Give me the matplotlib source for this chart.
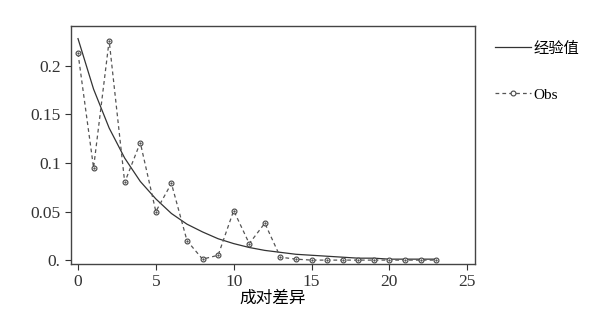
import matplotlib
matplotlib.use('Agg')
from matplotlib import pyplot as plt
from matplotlib.lines import Line2D

plt.rcParams['font.family'] = ['Liberation Serif', 'Noto Sans CJK SC']
plt.rcParams['font.size'] = 12.5

x_obs = list(range(24))
obs = [0.213, 0.095, 0.226, 0.080, 0.121, 0.050, 0.079, 0.020, 0.001, 0.005,
       0.051, 0.017, 0.038, 0.003, 0.001, 0.0, 0.0, 0.0, 0.0, 0.0,
       0.0, 0.0, 0.0, 0.0]
expected = [0.228, 0.176, 0.136, 0.105, 0.081, 0.063, 0.048, 0.037, 0.029, 0.022,
            0.017, 0.013, 0.010, 0.008, 0.006, 0.005, 0.004, 0.003, 0.002, 0.002,
            0.001, 0.001, 0.001, 0.001]
xticks = [0, 5, 10, 15, 20, 25]
yticks = [0, 0.05, 0.1, 0.15, 0.2]
ylabels = ['0.', '0.05', '0.1', '0.15', '0.2']

fig = plt.figure(figsize=(5.94, 3.09), dpi=100)
ax = fig.add_axes([71/594, 1 - 264/309, (475 - 71)/594, (264 - 26)/309])

ax.plot(x_obs, expected, '-', color='#333333', lw=0.9)
ax.plot(x_obs, obs, '--', color='#555555', lw=0.9, dashes=(3, 2.5),
        marker='o', ms=3.5, mfc='white', mec='#444444', mew=0.8)
ax.plot(x_obs, obs, ls='none', marker='.', ms=1.2, color='#444444')

ax.set_xlim(-0.45, 25.5)
ax.set_ylim(-0.004, 0.241)
ax.set_xticks(xticks)
ax.set_yticks(yticks)
ax.set_yticklabels(ylabels)
ax.tick_params(direction='out', length=4, width=0.8, colors='#333333', labelsize=12.5)
for sp in ax.spines.values():
    sp.set_color('#444444')
    sp.set_linewidth(1.0)
ax.set_xlabel('成对差异', fontsize=12, labelpad=0)

handles = [Line2D([], [], color='#333333', lw=0.9),
           Line2D([], [], color='#555555', lw=0.9, ls='--', dashes=(3, 2.5),
                  marker='o', ms=3.5, mfc='white', mec='#444444', mew=0.8)]
fig.legend(handles, ['经验值', 'Obs'], loc='upper left',
           bbox_to_anchor=(481/594, 1 - 28/309), frameon=False,
           handlelength=2.35, handletextpad=0.2, labelspacing=2.1, fontsize=11)

plt.savefig('out.png', dpi=100)
